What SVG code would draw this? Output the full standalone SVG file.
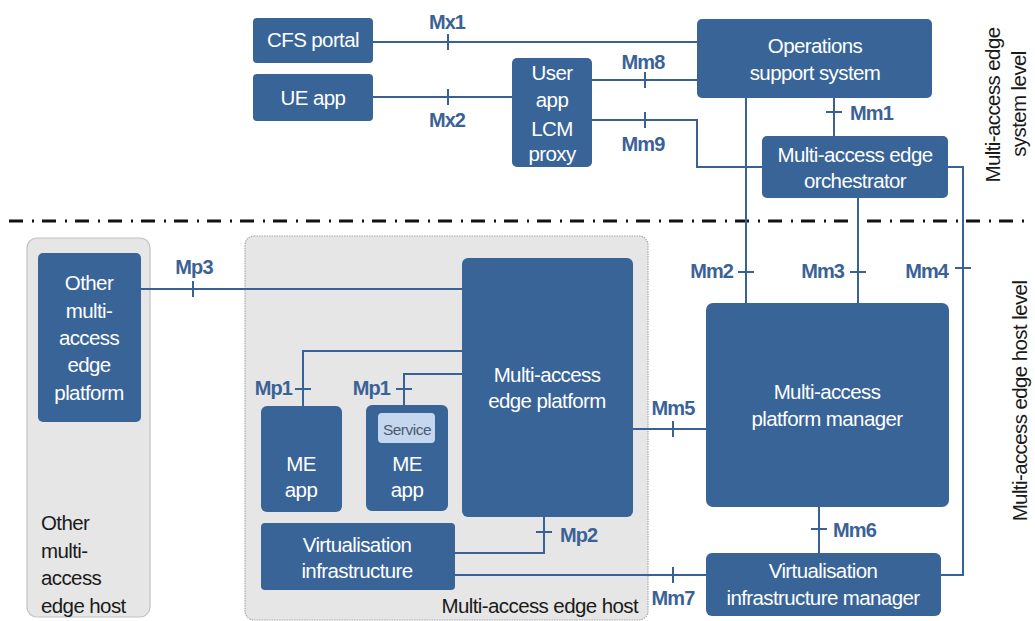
<svg xmlns="http://www.w3.org/2000/svg" width="1035" height="621" viewBox="0 0 1035 621">
<style>
.box{fill:#396497;}
.bt{font-family:"Liberation Sans",Arial,sans-serif;font-size:20.5px;fill:#ffffff;text-anchor:middle;letter-spacing:-0.6px;}
.lbl{font-family:"Liberation Sans",Arial,sans-serif;font-size:20px;font-weight:bold;fill:#3b6296;letter-spacing:-0.9px;}
.dk{font-family:"Liberation Sans",Arial,sans-serif;font-size:20.5px;fill:#1a1a1a;letter-spacing:-0.6px;}
.ln{stroke:#3a6196;stroke-width:2;fill:none;}
.cont{fill:#e6e6e6;}
</style>
<rect width="1035" height="621" fill="#ffffff"/>
<g id="other-host">
<rect class="cont" x="27" y="238" width="123" height="379" rx="10" stroke="#c2c2c2" stroke-width="1.2"/>
<text class="dk" x="41" y="530">Other</text>
<text class="dk" x="41" y="558">multi-</text>
<text class="dk" x="41" y="585">access</text>
<text class="dk" x="41" y="613">edge host</text>
</g>
<g id="me-host">
<rect class="cont" x="245" y="236" width="403" height="384" rx="9" stroke="#a8a8a8" stroke-width="1.2" stroke-dasharray="1.5 1"/>
<text class="dk" x="638" y="613" text-anchor="end">Multi-access edge host</text>
</g>
<g id="divider">
<line x1="9" y1="221" x2="1032" y2="221" stroke="#111" stroke-width="3" stroke-dasharray="14 9 2 8"/>
</g>
<g id="connectors">
<path class="ln" d="M373 42H697M448 34V50"/>
<path class="ln" d="M373 97H512M448 89V105"/>
<path class="ln" d="M592 80H697M645 72V88"/>
<path class="ln" d="M592 120H697V167H762M645 112V128"/>
<path class="ln" d="M834 98V136M826 112H842"/>
<path class="ln" d="M746 98V303M738 272H754"/>
<path class="ln" d="M858 198V303M850 272H866"/>
<path class="ln" d="M948 167H963V575H941M955 268H971"/>
<path class="ln" d="M141 289H462M193 281V297"/>
<path class="ln" d="M462 351H303V406M295 389H311"/>
<path class="ln" d="M462 374H404V405M396 389H412"/>
<path class="ln" d="M633 429H706M673 421V437"/>
<path class="ln" d="M455 553H544V517M536 532H552"/>
<path class="ln" d="M819 507V553M811 529H827"/>
<path class="ln" d="M455 575H706M673 567V583"/>
<text class="lbl" x="447" y="29" text-anchor="middle">Mx1</text>
<text class="lbl" x="447" y="127" text-anchor="middle">Mx2</text>
<text class="lbl" x="643" y="69" text-anchor="middle">Mm8</text>
<text class="lbl" x="643" y="151" text-anchor="middle">Mm9</text>
<text class="lbl" x="850" y="120">Mm1</text>
<text class="lbl" x="733" y="278" text-anchor="end">Mm2</text>
<text class="lbl" x="844" y="278" text-anchor="end">Mm3</text>
<text class="lbl" x="948" y="278" text-anchor="end">Mm4</text>
<text class="lbl" x="194" y="274" text-anchor="middle">Mp3</text>
<text class="lbl" x="292" y="395" text-anchor="end">Mp1</text>
<text class="lbl" x="390" y="395" text-anchor="end">Mp1</text>
<text class="lbl" x="673" y="415" text-anchor="middle">Mm5</text>
<text class="lbl" x="560" y="542">Mp2</text>
<text class="lbl" x="833" y="537">Mm6</text>
<text class="lbl" x="673" y="605" text-anchor="middle">Mm7</text>
</g>
<g id="cfs-portal">
<rect class="box" x="253" y="18" width="120" height="45" rx="4"/>
<text class="bt" x="313" y="47">CFS portal</text>
</g>
<g id="ue-app">
<rect class="box" x="253" y="74" width="120" height="47" rx="4"/>
<text class="bt" x="313" y="105">UE app</text>
</g>
<g id="lcm-proxy">
<rect class="box" x="512" y="58" width="80" height="109" rx="5"/>
<text class="bt" x="552" y="80">User</text>
<text class="bt" x="552" y="107">app</text>
<text class="bt" x="552" y="136">LCM</text>
<text class="bt" x="552" y="161">proxy</text>
</g>
<g id="oss">
<rect class="box" x="697" y="19" width="235" height="79" rx="5"/>
<text class="bt" x="815" y="53">Operations</text>
<text class="bt" x="815" y="80">support system</text>
</g>
<g id="meo">
<rect class="box" x="762" y="136" width="186" height="62" rx="5"/>
<text class="bt" x="855" y="162">Multi-access edge</text>
<text class="bt" x="855" y="188">orchestrator</text>
</g>
<g id="other-mep">
<rect class="box" x="38" y="253" width="103" height="169" rx="5"/>
<text class="bt" x="89" y="290">Other</text>
<text class="bt" x="89" y="318">multi-</text>
<text class="bt" x="89" y="345">access</text>
<text class="bt" x="89" y="372">edge</text>
<text class="bt" x="89" y="400">platform</text>
</g>
<g id="mep">
<rect class="box" x="462" y="258" width="171" height="259" rx="6"/>
<text class="bt" x="547" y="382">Multi-access</text>
<text class="bt" x="547" y="408">edge platform</text>
</g>
<g id="me-app-1">
<rect class="box" x="261" y="406" width="81" height="106" rx="6"/>
<text class="bt" x="301" y="471">ME</text>
<text class="bt" x="301" y="497">app</text>
</g>
<g id="me-app-2">
<rect class="box" x="366" y="405" width="82" height="106" rx="6"/>
<rect x="378" y="413" width="57" height="30" rx="4" fill="#c5d7ee"/>
<text x="407" y="435" text-anchor="middle" font-family="Liberation Sans, Arial, sans-serif" font-size="15.5" fill="#4c5b70" letter-spacing="-0.5">Service</text>
<text class="bt" x="407" y="471">ME</text>
<text class="bt" x="407" y="497">app</text>
</g>
<g id="vi">
<rect class="box" x="261" y="523" width="194" height="67" rx="4"/>
<text class="bt" x="357" y="552">Virtualisation</text>
<text class="bt" x="357" y="578">infrastructure</text>
</g>
<g id="mpm">
<rect class="box" x="706" y="303" width="243" height="204" rx="7"/>
<text class="bt" x="827" y="399">Multi-access</text>
<text class="bt" x="827" y="426">platform manager</text>
</g>
<g id="vim">
<rect class="box" x="706" y="553" width="235" height="63" rx="6"/>
<text class="bt" x="823" y="578">Virtualisation</text>
<text class="bt" x="823" y="605">infrastructure manager</text>
</g>
<g id="level-labels">
<text class="dk" transform="translate(1000,105) rotate(-90)" text-anchor="middle">Multi-access edge</text>
<text class="dk" transform="translate(1026,104) rotate(-90)" text-anchor="middle">system level</text>
<text class="dk" transform="translate(1027,401) rotate(-90)" text-anchor="middle">Multi-access edge host level</text>
</g>
</svg>
